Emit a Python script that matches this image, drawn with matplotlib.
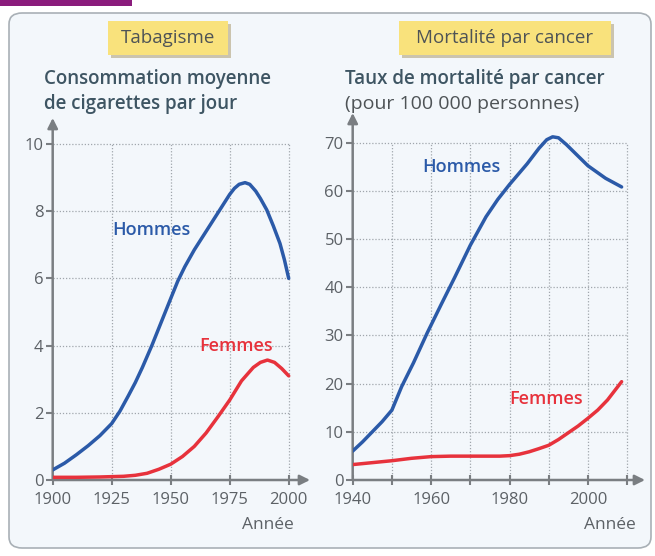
import matplotlib
matplotlib.use("Agg")
import matplotlib.pyplot as plt
from matplotlib.patches import FancyBboxPatch, Rectangle

# ---------------- data ----------------
tab_years_h = [1900, 1905, 1910, 1915, 1920, 1925, 1928.5, 1932, 1935, 1938, 1942, 1946,
               1950, 1953, 1956, 1960, 1965, 1970, 1975, 1977, 1979, 1981.5, 1983.5,
               1986, 1988, 1990.7, 1993.5, 1996.3, 1998.2, 2000]
tab_hommes = [0.3, 0.5, 0.75, 1.02, 1.32, 1.68, 2.05, 2.5, 2.9, 3.35, 4.0, 4.7,
              5.4, 5.92, 6.35, 6.85, 7.4, 7.95, 8.5, 8.68, 8.8, 8.85, 8.8,
              8.6, 8.38, 8.04, 7.56, 7.04, 6.55, 6.0]
tab_years_f = [1900, 1910, 1920, 1925, 1930, 1935, 1940, 1945, 1950, 1955, 1960, 1965,
               1970, 1975, 1980, 1985, 1988, 1991, 1994, 1997, 2000]
tab_femmes = [0.08, 0.08, 0.09, 0.1, 0.11, 0.14, 0.2, 0.32, 0.47, 0.7, 1.0, 1.4,
              1.88, 2.38, 2.95, 3.35, 3.5, 3.57, 3.5, 3.32, 3.1]

mort_years_h = [1940, 1942.5, 1945, 1947.5, 1950, 1952.5, 1955.5, 1959, 1962.5, 1966,
                1970, 1974, 1977, 1980, 1984.5, 1987.5, 1989.5, 1991, 1992.5, 1994.5,
                1997, 2000, 2004.5, 2008.6]
mort_hommes = [6.0, 7.9, 10.0, 12.1, 14.5, 19.4, 24.3, 30.5, 36.3, 42.0,
               48.7, 54.6, 58.2, 61.3, 65.6, 68.8, 70.6, 71.2, 71.0, 69.6,
               67.6, 65.2, 62.6, 60.8]
mort_years_f = [1940, 1945, 1950, 1955, 1960, 1965, 1970, 1975, 1977.5, 1980, 1982.5,
                1985, 1987.5, 1990, 1992.5, 1995, 1997.5, 2000, 2002.5, 2005, 2008.6]
mort_femmes = [3.2, 3.6, 4.0, 4.5, 4.85, 4.95, 4.95, 4.95, 4.95, 5.05, 5.35,
               5.85, 6.5, 7.2, 8.4, 9.8, 11.2, 12.8, 14.5, 16.6, 20.4]

tab_xticks = [1900, 1925, 1950, 1975, 2000]
tab_yticks = [0, 2, 4, 6, 8, 10]
mort_xticks = [1940, 1950, 1960, 1970, 1980, 1990, 2000, 2010]
mort_xlabels = ["1940", "", "1960", "", "1980", "", "2000", ""]
mort_yticks = [0, 10, 20, 30, 40, 50, 60, 70]

# ---------------- style ----------------
BLUE = "#2b5aa8"
RED = "#e7323c"
AXIS = "#7a7e82"
TICKC = "#5c6166"
TEXTC = "#3e5563"
GRID = "#a0a6ac"
FONT = ["Open Sans", "DejaVu Sans"]
plt.rcParams["font.family"] = FONT

fig = plt.figure(figsize=(6.55, 5.56), dpi=100)
W, H = 655, 556

def fx(px):
    return px / W

def fy(py):
    return 1 - py / H

# background panel
fig.patches.append(FancyBboxPatch((fx(9), fy(548)), fx(642), (548 - 13) / H,
                                  boxstyle="round,pad=0,rounding_size=0.02",
                                  transform=fig.transFigure, facecolor="#f3f7fb",
                                  edgecolor="#a9b0b6", lw=1.2, zorder=-5))
# top purple bar
fig.patches.append(Rectangle((0, fy(6)), fx(132), 6 / H, transform=fig.transFigure,
                             facecolor="#8a1c7c", edgecolor="none", zorder=-4))

def title_box(x0, x1, text):
    y0, y1 = 55, 21
    fig.patches.append(Rectangle((fx(x0 + 3), fy(y0 + 3)), fx(x1 - x0), (y0 - y1) / H,
                                 transform=fig.transFigure, facecolor="#cbc4ae",
                                 edgecolor="none", zorder=-3))
    fig.patches.append(Rectangle((fx(x0), fy(y0)), fx(x1 - x0), (y0 - y1) / H,
                                 transform=fig.transFigure, facecolor="#f9e27c",
                                 edgecolor="none", zorder=-2))
    fig.text(fx((x0 + x1) / 2), fy((y0 + y1) / 2), text, ha="center", va="center",
             fontsize=13.5, color="#4e5356", zorder=4)

title_box(108, 228, "Tabagisme")
title_box(399, 611, "Mortalité par cancer")

fig.text(fx(44), fy(79), "Consommation moyenne", fontsize=13.5, color=TEXTC,
         fontweight="semibold", va="center", ha="left")
fig.text(fx(44), fy(104), "de cigarettes par jour", fontsize=13.5, color=TEXTC,
         fontweight="semibold", va="center", ha="left")
fig.text(fx(345), fy(79), "Taux de mortalité par cancer", fontsize=13.5, color=TEXTC,
         fontweight="semibold", va="center", ha="left")
fig.text(fx(345), fy(104), "(pour 100 000 personnes)", fontsize=14, color="#4e5356",
         va="center", ha="left")


def setup(ax, xlim, ylim, xticks, xlabels, yticks, xgrid, ygrid, xmax_g, ymax_g):
    ax.set_zorder(5)
    ax.set_xlim(*xlim)
    ax.set_ylim(*ylim)
    ax.patch.set_alpha(0)
    for s in ax.spines.values():
        s.set_visible(False)
    ax.annotate("", xy=(1, 0), xycoords="axes fraction", xytext=(0, 0),
                arrowprops=dict(arrowstyle="-|>,head_length=0.6,head_width=0.3",
                                color=AXIS, lw=1.8, shrinkA=0, shrinkB=0))
    ax.annotate("", xy=(0, 1), xycoords="axes fraction", xytext=(0, 0),
                arrowprops=dict(arrowstyle="-|>,head_length=0.6,head_width=0.3",
                                color=AXIS, lw=1.8, shrinkA=0, shrinkB=0))
    ax.set_xticks(xticks)
    ax.set_xticklabels(xlabels)
    ax.set_yticks(yticks)
    ax.tick_params(axis="x", direction="inout", length=7, width=1.5, color=AXIS,
                   labelsize=12, labelcolor=TICKC, pad=5)
    ax.tick_params(axis="y", direction="out", length=5, width=1.5, color=AXIS,
                   labelsize=12, labelcolor=TICKC, pad=1.5)
    for g in ygrid:
        ax.plot([xlim[0], xmax_g], [g, g], ls=(0, (1, 1.5)), color=GRID, lw=0.9, zorder=1)
    for g in xgrid:
        ax.plot([g, g], [ylim[0], ymax_g], ls=(0, (1, 1.5)), color=GRID, lw=0.9, zorder=1)


# left chart  (origin at px 52.7, 480 ; 2.36 px/yr ; 33.6 px/unit)
ax1 = fig.add_axes([fx(52.7), fy(480), fx(310 - 52.7), (480 - 118) / H])
setup(ax1, (1900, 1900 + (310 - 52.7) / 2.36), (0, (480 - 118) / 33.6), tab_xticks,
      [str(t) for t in tab_xticks], tab_yticks, tab_xticks[1:], tab_yticks[1:], 2000, 10)
ax1.plot(tab_years_h, tab_hommes, color=BLUE, lw=2.5, solid_capstyle="round",
         solid_joinstyle="round", zorder=3)
ax1.plot(tab_years_f, tab_femmes, color=RED, lw=2.5, solid_capstyle="round",
         solid_joinstyle="round", zorder=3)
ax1.text(1941.8, 7.44, "Hommes", color=BLUE, fontsize=13, fontweight="semibold",
         ha="center", va="center")
ax1.text(1977.7, 3.99, "Femmes", color=RED, fontsize=13, fontweight="semibold",
         ha="center", va="center")
fig.text(fx(268), fy(525), "Année", fontsize=12.5, color=TICKC, ha="center", va="center")

# right chart  (origin at px 352.7, 480 ; 3.92 px/yr ; 4.82 px/unit)
ax2 = fig.add_axes([fx(352.7), fy(480), fx(645 - 352.7), (480 - 113) / H])
setup(ax2, (1940, 1940 + (645 - 352.7) / 3.92), (0, (480 - 113) / 4.82), mort_xticks,
      mort_xlabels, mort_yticks, mort_xticks[1:], mort_yticks[1:], 2010, 70)
ax2.plot(mort_years_h, mort_hommes, color=BLUE, lw=2.5, solid_capstyle="round",
         solid_joinstyle="round", zorder=3)
ax2.plot(mort_years_f, mort_femmes, color=RED, lw=2.5, solid_capstyle="round",
         solid_joinstyle="round", zorder=3)
ax2.text(1967.8, 65.0, "Hommes", color=BLUE, fontsize=13, fontweight="semibold",
         ha="center", va="center")
ax2.text(1989.4, 16.9, "Femmes", color=RED, fontsize=13, fontweight="semibold",
         ha="center", va="center")
fig.text(fx(610), fy(525), "Année", fontsize=12.5, color=TICKC, ha="center", va="center")

fig.savefig("out.png", dpi=100)
